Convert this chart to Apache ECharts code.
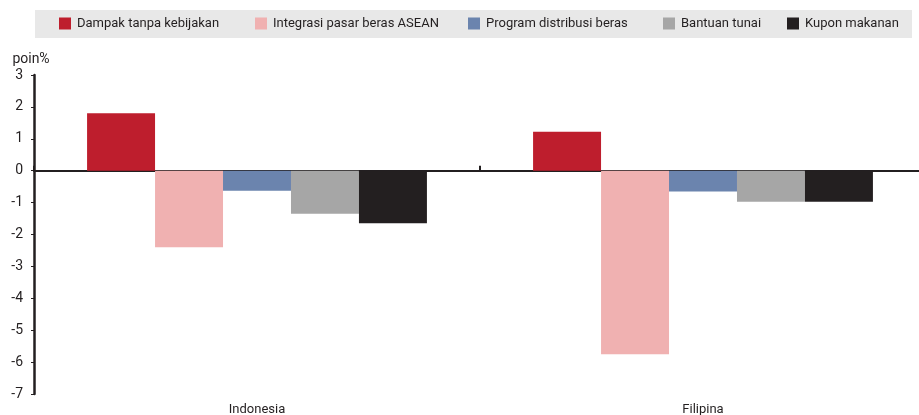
<!DOCTYPE html>
<html>
<head>
<meta charset="utf-8">
<script src="https://cdn.jsdelivr.net/npm/echarts@6/dist/echarts.min.js"></script>
<style>
  html, body { margin: 0; padding: 0; background: #fff; }
  #chart { width: 919px; height: 415px; }
</style>
</head>
<body>
<div id="chart"></div>
<script>
// Countries on the category axis
const countries = ['Indonesia', 'Filipina'];

// Change (percentage points) per policy scenario
const seriesNames = [
  'Dampak tanpa kebijakan',
  'Integrasi pasar beras ASEAN',
  'Program distribusi beras',
  'Bantuan tunai',
  'Kupon makanan'
];
const dampakTanpaKebijakan = [1.8, 1.22];
const integrasiPasar = [-2.4, -5.75];
const programDistribusi = [-0.63, -0.65];
const bantuanTunai = [-1.35, -0.97];
const kuponMakanan = [-1.65, -0.97];

const yTicks = [3, 2, 1, 0, -1, -2, -3, -4, -5, -6, -7];

const colors = ['#be1e2d', '#f0b1b1', '#6b84ae', '#a6a6a6', '#231f20'];
const values = [dampakTanpaKebijakan, integrasiPasar, programDistribusi, bantuanTunai, kuponMakanan];
const legendLefts = [59, 255, 468, 663, 787];
const textColor = '#231f20';
const fontFamily = 'Roboto, "DejaVu Sans", sans-serif';

const chart = echarts.init(document.getElementById('chart'));

chart.setOption({
  animation: false,
  textStyle: { fontFamily: fontFamily, color: textColor },
  graphic: [{
    type: 'rect',
    shape: { x: 35, y: 10, width: 877, height: 28 },
    style: { fill: '#e8e8e8' },
    silent: true,
    z: -1
  }],
  // one legend per scenario so each entry sits in its own slot
  legend: seriesNames.map((name, i) => ({
    top: 17,
    left: legendLefts[i],
    padding: 0,
    itemWidth: 12,
    itemHeight: 12,
    icon: 'rect',
    textStyle: { fontSize: 13, color: textColor, fontFamily: fontFamily, padding: [0, 0, 0, 1] },
    data: [name]
  })),
  grid: {
    left: 34,
    top: 75,
    width: 892,
    height: 319,
    containLabel: false,
    outerBoundsMode: 'none'
  },
  xAxis: [{
    // country labels along the bottom of the plot
    type: 'category',
    data: countries,
    position: 'bottom',
    axisLine: { show: false, onZero: false },
    axisTick: { show: false },
    axisLabel: { color: textColor, fontSize: 13, margin: 9 }
  }, {
    // baseline through zero with a divider tick between countries
    type: 'category',
    data: countries,
    position: 'bottom',
    axisLine: { onZero: true, lineStyle: { color: textColor, width: 2 } },
    axisTick: { show: true, inside: true, length: 5, lineStyle: { color: textColor, width: 2 } },
    axisLabel: { show: false }
  }],
  yAxis: {
    type: 'value',
    min: yTicks[yTicks.length - 1],
    max: yTicks[0],
    interval: 1,
    name: 'poin%',
    nameLocation: 'end',
    nameGap: 9,
    nameTextStyle: { color: textColor, fontSize: 14, align: 'center', padding: [0, 6, 0, 0] },
    axisLine: { show: true, lineStyle: { color: textColor, width: 2.5 } },
    axisTick: { show: true, length: 3, lineStyle: { color: textColor, width: 1 } },
    axisLabel: { color: textColor, fontSize: 14, margin: 11 },
    splitLine: { show: false }
  },
  series: seriesNames.map((name, i) => ({
    name: name,
    type: 'bar',
    xAxisIndex: 1,
    data: values[i],
    itemStyle: { color: colors[i] },
    barGap: '0%',
    barCategoryGap: '23.8%'
  }))
});
</script>
</body>
</html>
